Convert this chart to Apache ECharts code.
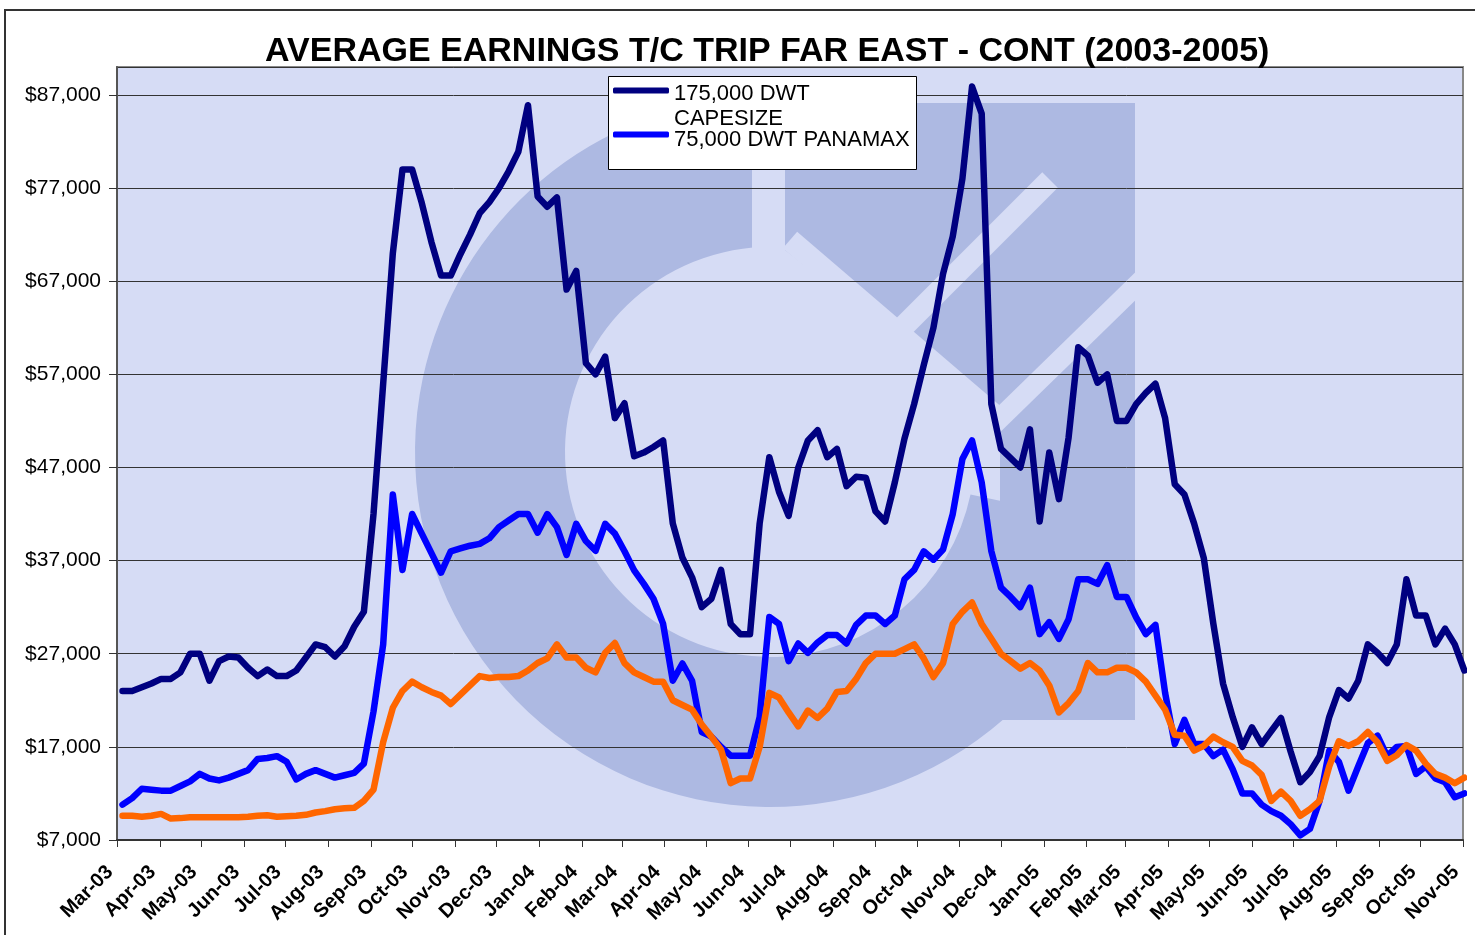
<!DOCTYPE html>
<html>
<head>
<meta charset="utf-8">
<title>Average Earnings T/C Trip Far East - Cont (2003-2005)</title>
<script src="https://cdn.jsdelivr.net/npm/echarts@6/dist/echarts.min.js"></script>
<style>
  html, body { margin: 0; padding: 0; background: #ffffff; }
  #chart { width: 1475px; height: 935px; }
</style>
</head>
<body>
<div id="chart"></div>
<script>
"use strict";

/* ---------- data (weekly, US$/day) ---------- */

// first weekly observation: 5 Mar 2003, then every 7 days
const firstWeek = [2003, 2, 5];

const capesize = [
    23000, 23000, 23400, 23800, 24300, 24300, 25000, 27000, 27000, 24100,
    26200, 26700, 26600, 25500, 24600, 25300, 24600, 24600, 25200, 26600,
    28000, 27700, 26700, 27800, 29900, 31500, 42000, 56000, 70000, 79000,
    79000, 75400, 71200, 67600, 67600, 69900, 72000, 74300, 75500, 77000,
    78800, 80900, 85900, 76100, 75000, 76000, 66100, 68100, 58200, 57000,
    58900, 52300, 53900, 48200, 48600, 49200, 49900, 41000, 37300, 35200,
    32000, 32900, 36000, 30200, 29100, 29100, 41000, 48100, 44400, 41800,
    47000, 49900, 51000, 48100, 49000, 45000, 46000, 45900, 42300, 41200,
    45400, 50100, 53800, 58000, 62000, 67800, 71800, 78000, 87900, 85000,
    53800, 49000, 48000, 47000, 51100, 41200, 48600, 43600, 50200, 59900,
    59000, 56100, 57000, 52000, 52000, 53800, 55000, 56000, 52300, 45200,
    44100, 41000, 37300, 30200, 23800, 20200, 17000, 19100, 17300, 18700,
    20100, 16500, 13200, 14300, 16000, 20200, 23100, 22200, 24100, 28000,
    27100, 26000, 28000, 35000, 31100, 31100, 28000, 29700, 28000, 25200
];

const panamax = [
    10800, 11500, 12500, 12400, 12300, 12300, 12800, 13300, 14100, 13600,
    13400, 13700, 14100, 14500, 15700, 15800, 16000, 15400, 13500, 14100,
    14500, 14100, 13700, 13950, 14200, 15200, 20800, 28000, 44100, 36000,
    42000, 39900, 37800, 35700, 38000, 38300, 38600, 38800, 39400, 40600,
    41300, 42000, 42000, 40000, 42000, 40600, 37600, 40950, 39100, 38050,
    40950, 39900, 38000, 35950, 34500, 32900, 30200, 24100, 25950, 24100,
    18600, 18100, 17000, 16050, 16050, 16050, 20200, 30950, 30200, 26200,
    28100, 27100, 28200, 29000, 29000, 28100, 30100, 31100, 31100, 30200,
    31100, 35000, 36000, 38000, 37100, 38200, 42000, 47900, 49900, 45400,
    38000, 34100, 33100, 32000, 34100, 29100, 30400, 28600, 30700, 35000,
    35000, 34500, 36500, 33100, 33100, 30900, 29100, 30100, 22800, 17300,
    19900, 17300, 17300, 16000, 16700, 14600, 12000, 12000, 10800, 10100,
    9600, 8700, 7500, 8200, 11200, 16600, 15400, 12300, 14900, 17400,
    18200, 16000, 17000, 17100, 14100, 14900, 13600, 13200, 11600, 12000
];

// third line (orange) has no entry in the legend of the original
const thirdLine = [
    9600, 9600, 9500, 9600, 9800, 9300, 9350, 9450, 9450, 9450,
    9450, 9450, 9450, 9500, 9600, 9650, 9500, 9550, 9600, 9700,
    9950, 10100, 10300, 10400, 10450, 11200, 12400, 17500, 21200, 23000,
    24000, 23400, 22900, 22500, 21600, 22600, 23600, 24600, 24400, 24500,
    24500, 24600, 25200, 26000, 26500, 28000, 26600, 26600, 25500, 25000,
    27100, 28150, 26000, 25000, 24500, 24000, 24000, 22000, 21500, 21000,
    19400, 18100, 16700, 13100, 13600, 13600, 17000, 22800, 22300, 20700,
    19200, 20900, 20100, 21100, 22900, 23000, 24300, 26000, 27000, 27000,
    27000, 27500, 28000, 26500, 24500, 26000, 30200, 31500, 32500, 30200,
    28600, 27000, 26200, 25400, 26000, 25200, 23600, 20700, 21700, 23000,
    26000, 25000, 25000, 25500, 25500, 25000, 24000, 22500, 21000, 18300,
    18200, 16600, 17100, 18100, 17500, 17000, 15500, 15000, 14000, 11200,
    12200, 11200, 9600, 10300, 11200, 14900, 17600, 17100, 17600, 18600,
    17500, 15500, 16100, 17200, 16600, 15200, 14100, 13700, 13100, 13700
];

const seriesNames = ["175,000 DWT CAPESIZE", "75,000 DWT PANAMAX", "Series3"];
// legend text lines; the blank spacer tokens keep each icon level with the first text line
const legendLabels = [
    "{s| }\n{t|175,000 DWT}\n{t|CAPESIZE}",
    "{u| }\n{t|75,000 DWT PANAMAX}"
];
const monthNames = ["Jan", "Feb", "Mar", "Apr", "May", "Jun", "Jul", "Aug", "Sep", "Oct", "Nov", "Dec"];

const axisStart = new Date(2003, 2, 1);
const axisEnd = new Date(2005, 10, 1);
const yMin = 7000;
const yMax = 90000;
const yStep = 10000;

/* ---------- look ---------- */

const Theme = {
    navy: "#000080",
    blue: "#0000ff",
    orange: "#ff6600",
    plot: "#d6dcf5",
    mark: "#adb9e2",
    grid: "#333333",
    font: "'Liberation Sans', Arial, sans-serif"
};

const DAY = 24 * 3600 * 1000;

function weekDates(n){
    const out = [];
    for(let i = 0; i < n; i++){
        out.push(new Date(firstWeek[0], firstWeek[1], firstWeek[2] + 7 * i));
    }
    return out;
}

function pairs(dates, values){
    return values.map((v, i) => [dates[i], v]);
}

function money(v){
    return "$" + Math.round(v).toLocaleString("en-US");
}

function monthLabel(value){
    const d = new Date(value);
    return monthNames[d.getMonth()] + "-" + String(d.getFullYear()).slice(2);
}

/* background logo of the plot area, drawn under the grid lines */
function watermark(){
    const deg = Math.PI / 180;
    const base = { silent: true, z: -10 };
    return [
        { ...base, type: "rect", shape: { x: 117, y: 67, width: 1346, height: 773 }, style: { fill: Theme.plot } },
        { ...base, type: "sector", z: -9,
          shape: { cx: 770, cy: 452, r: 355, r0: 205, startAngle: 12 * deg, endAngle: 268 * deg, clockwise: true },
          style: { fill: Theme.mark } },
        { ...base, type: "polygon", z: -9,
          shape: { points: [[785, 103], [1135, 103], [1135, 720], [1000, 720], [1000, 420], [785, 250]] },
          style: { fill: Theme.mark } },
        { ...base, type: "line", z: -8,
          shape: { x1: 790, y1: 240, x2: 1000, y2: 420 }, style: { stroke: Theme.plot, lineWidth: 22 } },
        { ...base, type: "line", z: -8,
          shape: { x1: 800, y1: 430, x2: 1050, y2: 180 }, style: { stroke: Theme.plot, lineWidth: 22 } },
        { ...base, type: "line", z: -8,
          shape: { x1: 990, y1: 428, x2: 1150, y2: 272 }, style: { stroke: Theme.plot, lineWidth: 20 } },
        { ...base, type: "rect", z: -8,
          shape: { x: 752, y: 95, width: 33, height: 160 }, style: { fill: Theme.plot } }
    ];
}

/* ---------- chart ---------- */

const dates = weekDates(capesize.length);
const chart = echarts.init(document.getElementById("chart"));

chart.setOption({
    animation: false,
    backgroundColor: "#ffffff",
    textStyle: { fontFamily: Theme.font },
    title: {
        text: "AVERAGE EARNINGS T/C TRIP FAR EAST - CONT (2003-2005)",
        left: 265,
        top: 35,
        padding: 0,
        textStyle: { fontFamily: Theme.font, fontSize: 34, fontWeight: "bold", color: "#000" }
    },
    legend: {
        orient: "vertical",
        left: 613,
        top: 63.5,
        padding: 0,
        itemGap: -9.5,
        itemWidth: 56,
        itemHeight: 6,
        icon: "roundRect",
        selectedMode: false,
        data: [seriesNames[0], seriesNames[1]],
        formatter: name => legendLabels[seriesNames.indexOf(name)],
        textStyle: {
            fontFamily: Theme.font,
            fontSize: 22,
            color: "#000",
            rich: {
                s: { fontSize: 4, lineHeight: 31 },
                u: { fontSize: 4, lineHeight: 11 },
                t: { fontFamily: Theme.font, fontSize: 22, lineHeight: 25, color: "#000" }
            }
        },
        z: 6
    },
    grid: {
        left: 117,
        right: 12,
        top: 67,
        bottom: 95,
        show: true,
        backgroundColor: "transparent",
        borderColor: "#888888",
        borderWidth: 2
    },
    xAxis: {
        type: "time",
        min: axisStart,
        max: axisEnd,
        splitNumber: 32,
        minInterval: 28 * DAY,
        maxInterval: 31 * DAY,
        axisLine: { show: true, lineStyle: { color: "#333", width: 2 } },
        axisTick: { show: true, length: 7, lineStyle: { color: "#333" } },
        axisLabel: {
            rotate: 45,
            interval: 0,
            margin: 22,
            padding: [0, 10, 0, 0],
            fontFamily: Theme.font,
            fontSize: 20,
            fontWeight: "bold",
            color: "#000",
            hideOverlap: false,
            formatter: monthLabel
        },
        splitLine: { show: false }
    },
    yAxis: {
        type: "value",
        min: yMin,
        max: yMax,
        interval: yStep,
        axisLine: { show: true, lineStyle: { color: "#555", width: 2 } },
        axisTick: { show: true, length: 8, lineStyle: { color: "#333" } },
        axisLabel: {
            showMaxLabel: false,
            margin: 16,
            fontFamily: Theme.font,
            fontSize: 21,
            color: "#000",
            formatter: money
        },
        splitLine: { show: true, lineStyle: { color: Theme.grid, width: 1 } }
    },
    graphic: [
        ...watermark(),
        { type: "rect", silent: true, z: 5,
          shape: { x: 608.5, y: 76.5, width: 308, height: 93 },
          style: { fill: "#ffffff", stroke: "#000", lineWidth: 1 } },
        { type: "rect", silent: true, z: 1,
          shape: { x: 5, y: 10, width: 1500, height: 960 },
          style: { fill: "none", stroke: "#333", lineWidth: 2 } }
    ],
    series: [
        {
            name: seriesNames[0], type: "line", symbol: "none", z: 2,
            data: pairs(dates, capesize),
            itemStyle: { color: Theme.navy },
            lineStyle: { color: Theme.navy, width: 6.5, cap: "round", join: "round" }
        },
        {
            name: seriesNames[1], type: "line", symbol: "none", z: 3,
            data: pairs(dates, panamax),
            itemStyle: { color: Theme.blue },
            lineStyle: { color: Theme.blue, width: 6.5, cap: "round", join: "round" }
        },
        {
            name: seriesNames[2], type: "line", symbol: "none", z: 4,
            data: pairs(dates, thirdLine),
            itemStyle: { color: Theme.orange },
            lineStyle: { color: Theme.orange, width: 6.5, cap: "round", join: "round" }
        }
    ]
});

window.addEventListener("resize", () => chart.resize());
</script>
</body>
</html>
